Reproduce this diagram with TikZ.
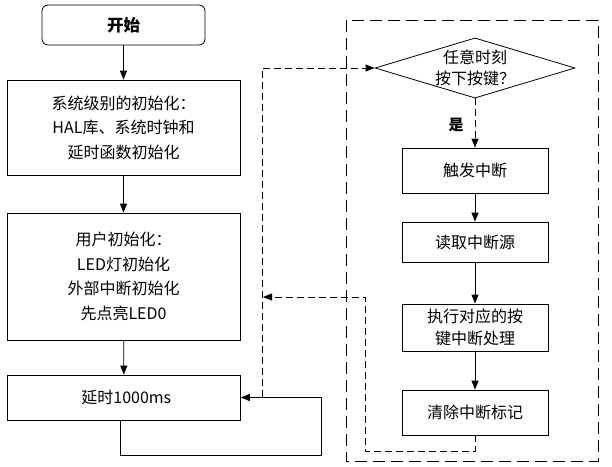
\documentclass[tikz,border=0pt]{standalone}
\usepackage{fontspec}
\setmainfont{Noto Sans CJK SC}
\usetikzlibrary{shapes.geometric,arrows.meta}
\tikzset{
  box/.style={draw, thick, align=center, inner sep=0pt, font=\fontsize{16}{24.5}\selectfont},
  arr/.style={thick, -{Triangle[length=9pt,width=7pt]}},
  darr/.style={thick, dash pattern=on 7pt off 4pt, -{Triangle[length=9pt,width=7pt]}},
}
\begin{document}
\begin{tikzpicture}[x=1pt, y=-1pt]
    \useasboundingbox (0,0) rectangle (612,466);
    % Left column
    \node[box, rounded corners=6pt, minimum width=163pt, minimum height=40pt, font=\fontsize{16.5}{18}\bfseries] (start) at (123.5,25) {开始};
    \node[box, minimum width=233pt, minimum height=95pt] (sysinit) at (123.5,127.5) {系统级别的初始化：\\HAL库、系统时钟和\\延时函数初始化};
    \node[box, minimum width=233pt, minimum height=127pt] (userinit) at (123.5,276.5) {用户初始化：\\LED灯初始化\\外部中断初始化\\先点亮LED0};
    \node[box, minimum width=233pt, minimum height=45pt, anchor=west, text width=233pt, align=left] (delay) at (7,397.5) {\hspace{74pt}延时1000ms};
    % Right column
    \draw[thick, dash pattern=on 12pt off 6pt] (346,20) rectangle (598,461);
    \node[draw, thick, diamond, aspect=3.3, minimum width=200pt, minimum height=60pt, inner sep=0pt, align=center, font=\fontsize{16}{21}\selectfont] (press) at (475,68) {任意时刻\\按下按键？};
    \node[box, minimum width=146pt, minimum height=45pt] (trig) at (475,170.5) {触发中断};
    \node[box, minimum width=146pt, minimum height=40pt] (read) at (475,242) {读取中断源};
    \node[box, minimum width=146pt, minimum height=47pt, font=\fontsize{16}{22}\selectfont] (exec) at (475,327.5) {执行对应的按\\键中断处理};
    \node[box, minimum width=146pt, minimum height=45pt] (clear) at (475,412.5) {清除中断标记};
    \node[font=\fontsize{15}{16}\bfseries] (yes) at (456,125) {是};
    \coordinate (loopa) at (120,455);
    \coordinate (loopb) at (321,455);
    \coordinate (jump) at (262,397);
    \coordinate (back) at (365,451);
    % Arrows
    \draw[arr] (start) -- (sysinit);
    \draw[arr] (sysinit) -- (userinit);
    \draw[arr] (userinit) -- (delay);
    \draw[arr] (delay.south -| loopa) -- (loopa) -- (loopb) |- (delay.east);
    \draw[darr] (press) -- (trig);
    \draw[arr] (trig) -- (read);
    \draw[arr] (read) -- (exec);
    \draw[arr] (exec) -- (clear);
    \draw[darr] (jump) |- (press.west);
    \draw[darr] (clear.south) |- (back) |- (263,297);
\end{tikzpicture}
\end{document}
